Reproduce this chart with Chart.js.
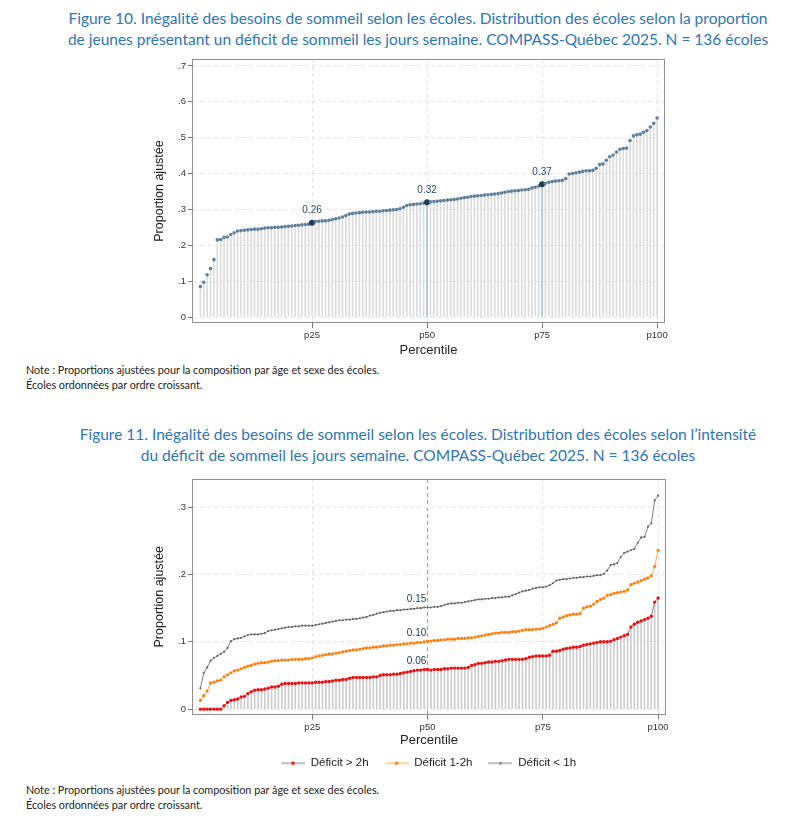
<!DOCTYPE html>
<html>
<head>
<meta charset="utf-8">
<script src="https://cdn.jsdelivr.net/npm/chart.js@4.4.1/dist/chart.umd.min.js"></script>
<style>
  body { margin: 0; background: #fff; width: 797px; height: 833px; position: relative; overflow: hidden; font-family: Lato, "Open Sans", sans-serif; }
  .titre { position: absolute; left: 18px; width: 800px; text-align: center; color: #2e75b6; font-size: 15.5px; line-height: 21px; }
  .note { position: absolute; left: 26px; font-size: 10.8px; line-height: 14.6px; color: #222; }
  .boite { position: absolute; left: 130px; }
</style>
</head>
<body>
<div class="titre" style="top:8px">Figure 10. Inégalité des besoins de sommeil selon les écoles. Distribution des écoles selon la proportion<br>de jeunes présentant un déficit de sommeil les jours semaine. COMPASS-Québec 2025. N = 136 écoles</div>
<div class="boite" style="top:50px"><canvas id="fig10" width="550" height="310"></canvas></div>
<div class="note" style="top:363px">Note : Proportions ajustées pour la composition par âge et sexe des écoles.<br>Écoles ordonnées par ordre croissant.</div>

<div class="titre" style="top:424px">Figure 11. Inégalité des besoins de sommeil selon les écoles. Distribution des écoles selon l’intensité<br>du déficit de sommeil les jours semaine. COMPASS-Québec 2025. N = 136 écoles</div>
<div class="boite" style="top:470px"><canvas id="fig11" width="550" height="309"></canvas></div>
<div class="note" style="top:783px">Note : Proportions ajustées pour la composition par âge et sexe des écoles.<br>Écoles ordonnées par ordre croissant.</div>

<script>
// figure 10 : proportion de jeunes avec deficit de sommeil, ecoles triees
const propDeficit = [
  0.085, 0.097, 0.118, 0.135, 0.160, 0.215, 0.216, 0.222, 0.223, 0.230,
  0.235, 0.240, 0.241, 0.242, 0.243, 0.244, 0.245, 0.245, 0.246, 0.248,
  0.249, 0.249, 0.250, 0.250, 0.251, 0.252, 0.253, 0.254, 0.255, 0.256,
  0.257, 0.258, 0.259, 0.263, 0.266, 0.267, 0.268, 0.268, 0.270, 0.272,
  0.274, 0.276, 0.279, 0.283, 0.287, 0.289, 0.290, 0.291, 0.292, 0.293,
  0.293, 0.294, 0.295, 0.295, 0.296, 0.297, 0.298, 0.299, 0.300, 0.302,
  0.306, 0.311, 0.313, 0.314, 0.315, 0.316, 0.318, 0.320, 0.321, 0.322,
  0.323, 0.324, 0.325, 0.326, 0.327, 0.328, 0.329, 0.331, 0.333, 0.334,
  0.336, 0.337, 0.338, 0.339, 0.340, 0.341, 0.342, 0.343, 0.344, 0.346,
  0.348, 0.350, 0.351, 0.352, 0.353, 0.354, 0.355, 0.356, 0.360, 0.362,
  0.365, 0.370, 0.373, 0.376, 0.378, 0.379, 0.380, 0.381, 0.386, 0.399,
  0.400, 0.402, 0.404, 0.406, 0.408, 0.408, 0.409, 0.415, 0.425, 0.427,
  0.437, 0.447, 0.452, 0.460, 0.468, 0.470, 0.471, 0.492, 0.505, 0.508,
  0.510, 0.515, 0.520, 0.530, 0.540, 0.555
];

// figure 11 : intensite du deficit
const deficitPlus2h = [
  0, 0, 0, 0, 0, 0, 0, 0.005, 0.010, 0.013,
  0.014, 0.015, 0.018, 0.019, 0.023, 0.026, 0.028, 0.029, 0.029, 0.030,
  0.031, 0.033, 0.033, 0.034, 0.037, 0.038, 0.038, 0.038, 0.038, 0.039,
  0.039, 0.039, 0.039, 0.039, 0.040, 0.040, 0.040, 0.041, 0.041, 0.042,
  0.043, 0.043, 0.044, 0.044, 0.046, 0.047, 0.047, 0.047, 0.047, 0.047,
  0.047, 0.048, 0.048, 0.050, 0.051, 0.051, 0.051, 0.052, 0.052, 0.053,
  0.054, 0.055, 0.056, 0.057, 0.058, 0.058, 0.059, 0.059, 0.058, 0.059,
  0.059, 0.059, 0.060, 0.060, 0.061, 0.061, 0.061, 0.061, 0.061, 0.062,
  0.065, 0.066, 0.068, 0.068, 0.069, 0.070, 0.070, 0.071, 0.071, 0.072,
  0.073, 0.074, 0.074, 0.074, 0.074, 0.074, 0.075, 0.077, 0.078, 0.079,
  0.079, 0.079, 0.079, 0.080, 0.086, 0.086, 0.087, 0.089, 0.090, 0.091,
  0.092, 0.092, 0.093, 0.095, 0.096, 0.097, 0.098, 0.099, 0.100, 0.100,
  0.100, 0.101, 0.103, 0.105, 0.107, 0.109, 0.111, 0.122, 0.126, 0.129,
  0.131, 0.133, 0.135, 0.138, 0.159, 0.165
];
const deficit1a2h = [
  0.013, 0.020, 0.027, 0.039, 0.040, 0.042, 0.043, 0.048, 0.051, 0.054,
  0.057, 0.058, 0.060, 0.062, 0.064, 0.065, 0.067, 0.068, 0.069, 0.069,
  0.070, 0.071, 0.072, 0.072, 0.073, 0.073, 0.073, 0.074, 0.074, 0.074,
  0.074, 0.075, 0.075, 0.076, 0.078, 0.079, 0.080, 0.081, 0.082, 0.082,
  0.083, 0.084, 0.085, 0.086, 0.087, 0.088, 0.088, 0.089, 0.090, 0.091,
  0.091, 0.092, 0.092, 0.093, 0.094, 0.094, 0.095, 0.095, 0.096, 0.096,
  0.097, 0.097, 0.098, 0.098, 0.099, 0.099, 0.100, 0.101, 0.101, 0.102,
  0.102, 0.103, 0.103, 0.104, 0.104, 0.104, 0.105, 0.105, 0.105, 0.106,
  0.106, 0.107, 0.108, 0.109, 0.110, 0.111, 0.112, 0.113, 0.113, 0.114,
  0.114, 0.114, 0.115, 0.115, 0.116, 0.117, 0.118, 0.118, 0.118, 0.119,
  0.119, 0.120, 0.122, 0.124, 0.126, 0.128, 0.135, 0.137, 0.139, 0.140,
  0.141, 0.141, 0.142, 0.150, 0.152, 0.153, 0.156, 0.160, 0.163, 0.165,
  0.169, 0.170, 0.172, 0.173, 0.174, 0.175, 0.177, 0.185, 0.187, 0.189,
  0.191, 0.193, 0.195, 0.198, 0.212, 0.236
];
const deficitMoins1h = [
  0.031, 0.054, 0.062, 0.072, 0.076, 0.079, 0.082, 0.085, 0.091, 0.101,
  0.104, 0.105, 0.106, 0.108, 0.110, 0.111, 0.111, 0.111, 0.112, 0.113,
  0.116, 0.117, 0.118, 0.119, 0.120, 0.121, 0.122, 0.122, 0.123, 0.123,
  0.124, 0.124, 0.124, 0.124, 0.125, 0.126, 0.127, 0.128, 0.129, 0.130,
  0.131, 0.132, 0.132, 0.133, 0.133, 0.134, 0.134, 0.135, 0.136, 0.137,
  0.139, 0.140, 0.142, 0.143, 0.144, 0.145, 0.146, 0.146, 0.147, 0.147,
  0.148, 0.148, 0.149, 0.149, 0.150, 0.150, 0.151, 0.151, 0.151, 0.152,
  0.152, 0.153, 0.155, 0.156, 0.157, 0.157, 0.158, 0.158, 0.159, 0.160,
  0.161, 0.162, 0.163, 0.163, 0.164, 0.164, 0.165, 0.165, 0.166, 0.166,
  0.167, 0.167, 0.169, 0.171, 0.173, 0.175, 0.176, 0.177, 0.179, 0.180,
  0.181, 0.181, 0.182, 0.184, 0.187, 0.191, 0.192, 0.193, 0.193, 0.194,
  0.195, 0.195, 0.196, 0.196, 0.197, 0.197, 0.198, 0.199, 0.199, 0.201,
  0.206, 0.214, 0.215, 0.217, 0.226, 0.232, 0.234, 0.236, 0.238, 0.247,
  0.255, 0.256, 0.271, 0.276, 0.310, 0.317
];

const nbEcoles = 136;
const repereRangs = [34, 68, 102];       // ecoles au p25, p50, p75
const medianeRang = 68;
const xTicks = [25, 50, 75, 100];
const yTicksFig10 = [0, 0.1, 0.2, 0.3, 0.4, 0.5, 0.6, 0.7];
const yTicksFig11 = [0, 0.1, 0.2, 0.3];

// rang -> percentile
const percentile = r => r / nbEcoles * 100;
const enPoints = vals => vals.map((v, i) => ({ x: percentile(i + 1), y: v }));

const police = 'Liberation Sans, Arial, sans-serif';
const fmtY = v => v === 0 ? '0' : v.toFixed(1).replace(/^0/, '');

// texte des valeurs au-dessus des points reperes
const etiquettes = {
  id: 'etiquettes',
  afterDatasetsDraw(chart, args, opts) {
    const ctx = chart.ctx;
    ctx.save();
    ctx.font = opts.font;
    ctx.fillStyle = opts.color;
    ctx.textAlign = 'center';
    ctx.textBaseline = 'middle';
    opts.items.forEach(it => {
      const pt = chart.getDatasetMeta(it.dataset).data[it.rang - 1];
      const v = chart.data.datasets[it.dataset].data[it.rang - 1].y;
      ctx.fillText(v.toFixed(2), pt.x + opts.dx, pt.y + opts.dy);
    });
    ctx.restore();
  }
};

// cadre autour de la zone de trace
const cadre = {
  id: 'cadre',
  afterDraw(chart) {
    const a = chart.chartArea, ctx = chart.ctx;
    ctx.save();
    ctx.strokeStyle = '#8f8f8f';
    ctx.lineWidth = 1;
    ctx.strokeRect(Math.round(a.left) - 0.5, Math.round(a.top) + 0.5, Math.round(a.right - a.left) + 1, Math.round(a.bottom - a.top) - 1);
    ctx.restore();
  }
};

// decale la legende pour la centrer sous le graphique
const decalLegende = {
  id: 'decalLegende',
  afterLayout(chart, args, opts) {
    if (chart.legend) { chart.legend.left += opts.dx; chart.legend.right += opts.dx; }
  }
};

function axeX(hauteur, padTitre) {
  return {
    type: 'linear', min: -0.87, max: 101.5, offset: false,
    afterBuildTicks: s => { s.ticks = xTicks.map(v => ({ value: v })); },
    afterFit: s => { s.height = hauteur; },
    ticks: { callback: v => 'p' + v, font: { family: police, size: 9.5 }, color: '#333', padding: 2, maxRotation: 0 },
    grid: { offset: false, color: '#e6e6e6', tickColor: '#777', tickLength: 5, tickBorderDash: [] },
    border: { display: false, dash: [4, 3] },
    title: { display: true, text: 'Percentile', font: { family: police, size: 13 }, color: '#222', padding: { top: 0, bottom: padTitre } }
  };
}
function axeY(max, ticks) {
  return {
    min: -0.0167 * (max / 0.7195), max: max,
    afterBuildTicks: s => { s.ticks = ticks.map(v => ({ value: v })); },
    afterFit: s => { s.width = 63; },
    ticks: { callback: fmtY, font: { family: police, size: 9.5 }, color: '#333', padding: 2 },
    grid: { color: '#e6e6e6', tickColor: '#777', tickLength: 5, tickBorderDash: [] },
    border: { display: false, dash: [4, 3] },
    title: { display: true, text: 'Proportion ajustée', font: { family: police, size: 12.5 }, color: '#222', padding: { top: 22.5, bottom: 0 } }
  };
}

// figure 10
const tiges10 = propDeficit.map((v, i) => (i + 1 === 68 || i + 1 === 102) ? '#a9c0d4' : '#dcdcdc');
new Chart(document.getElementById('fig10'), {
  type: 'bar',
  data: {
    datasets: [{
      type: 'line',
      data: enPoints(propDeficit),
      showLine: false,
      pointRadius: propDeficit.map((v, i) => repereRangs.includes(i + 1) ? 3 : 1.8),
      pointBackgroundColor: propDeficit.map((v, i) => repereRangs.includes(i + 1) ? '#1c3b5c' : '#5f7f9c'),
      pointBorderWidth: 0,
      order: 0
    }, {
      type: 'bar',
      data: enPoints(propDeficit),
      backgroundColor: tiges10,
      barThickness: 1,
      order: 1
    }]
  },
  options: {
    responsive: false, animation: false, events: [],
    layout: { padding: { top: 9, right: 16, left: 0, bottom: 0 } },
    scales: { x: axeX(37, 2.2), y: axeY(0.7195, yTicksFig10) },
    plugins: {
      legend: { display: false }, tooltip: { enabled: false },
      etiquettes: { font: '10px ' + police, color: '#2d4b6b', dx: 0, dy: -12, items: repereRangs.map(r => ({ dataset: 0, rang: r })) }
    }
  },
  plugins: [etiquettes, cadre]
});

// figure 11
function marqueur(ligne, point, r) {
  const c = document.createElement('canvas');
  c.width = 24; c.height = 8;
  const g = c.getContext('2d');
  g.strokeStyle = ligne; g.lineWidth = 1;
  g.beginPath(); g.moveTo(0, 4); g.lineTo(24, 4); g.stroke();
  g.fillStyle = point;
  g.beginPath(); g.arc(12, 4, r, 0, Math.PI * 2); g.fill();
  return c;
}
const marqueurs = {
  1: marqueur('#7f7f7f', '#ee1111', 1.8),
  2: marqueur('#ffa64d', '#ff7f0e', 1.8),
  3: marqueur('#7f7f7f', '#666666', 1.2)
};

new Chart(document.getElementById('fig11'), {
  type: 'bar',
  data: {
    datasets: [{
      type: 'bar', label: 'tiges',
      data: enPoints(deficitPlus2h),
      backgroundColor: '#cdcdcd', barThickness: 1, order: 4
    }, {
      type: 'line', label: 'Déficit > 2h',
      data: enPoints(deficitPlus2h),
      borderColor: '#808080', borderWidth: 1, tension: 0,
      pointRadius: 1.7, pointBackgroundColor: '#ee1111', pointBorderWidth: 0, order: 1
    }, {
      type: 'line', label: 'Déficit 1-2h',
      data: enPoints(deficit1a2h),
      borderColor: '#ffa64d', borderWidth: 1, tension: 0,
      pointRadius: 1.6, pointBackgroundColor: '#ff7f0e', pointBorderWidth: 0, order: 2
    }, {
      type: 'line', label: 'Déficit < 1h',
      data: enPoints(deficitMoins1h),
      borderColor: '#7f7f7f', borderWidth: 1, tension: 0,
      pointRadius: 1.1, pointBackgroundColor: '#666666', pointBorderWidth: 0, order: 3
    }]
  },
  options: {
    responsive: false, animation: false, events: [],
    layout: { padding: { top: 9, right: 15, left: 0, bottom: 0 } },
    scales: {
      x: (() => {
        const ax = axeX(27, -6.8);
        ax.grid.color = c => (c.tick && c.tick.value === 50) ? '#8e9fb3' : '#e6e6e6';
        return ax;
      })(),
      y: axeY(0.3418, yTicksFig11)
    },
    plugins: {
      tooltip: { enabled: false },
      legend: {
        position: 'bottom',
        labels: {
          usePointStyle: true, pointStyleWidth: 24, boxHeight: 8,
          font: { family: police, size: 11.5 }, color: '#222', padding: 16,
          filter: it => it.datasetIndex > 0,
          generateLabels: chart => Chart.defaults.plugins.legend.labels.generateLabels(chart)
            .map(it => ({ ...it, pointStyle: marqueurs[it.datasetIndex] || it.pointStyle }))
        }
      },
      decalLegende: { dx: 31 },
      etiquettes: { font: '10px ' + police, color: '#1f3c64', dx: -11, dy: -8, items: [3, 2, 1].map(d => ({ dataset: d, rang: medianeRang })) }
    }
  },
  plugins: [etiquettes, cadre, decalLegende]
});
</script>
</body>
</html>
